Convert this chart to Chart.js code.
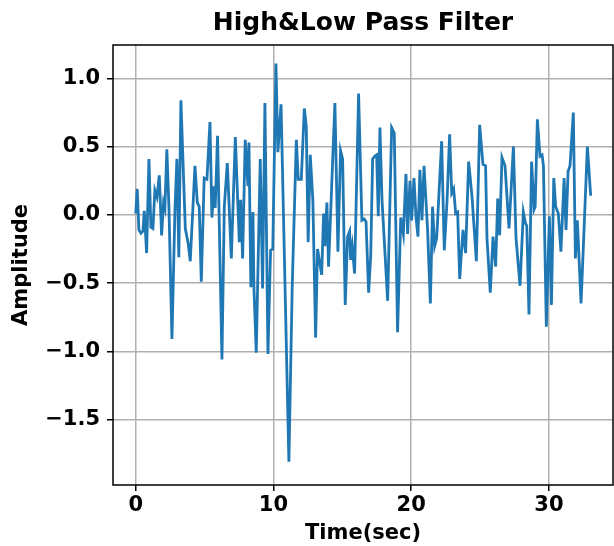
<!DOCTYPE html>
<html>
<head>
<meta charset="utf-8">
<script src="https://cdn.jsdelivr.net/npm/chart.js@4/dist/chart.umd.min.js"></script>
<style>
  html, body { margin: 0; padding: 0; background: #fff; }
  #wrap { width: 614px; height: 546px; }
</style>
</head>
<body>
<div id="wrap"><canvas id="filterChart" width="614" height="546"></canvas></div>
<script>
// filtered signal, time in seconds
const times = [
  0, 0.11, 0.23, 0.38, 0.52, 0.62, 0.79, 0.96, 1.1, 1.25, 1.39, 1.54, 1.71, 1.88, 2.02, 2.12,
  2.26, 2.41, 2.63, 2.84, 2.99, 3.13, 3.28, 3.6, 3.81, 3.96, 4.3, 4.47, 4.61, 4.76, 4.97, 5.17,
  5.39, 5.53, 5.68, 5.77, 5.94, 6.26, 6.43, 6.65, 6.94, 7.23, 7.52, 7.62, 7.76, 7.95, 8.15, 8.22,
  8.36, 8.51, 8.58, 8.75, 9.04, 9.21, 9.38, 9.6, 9.79, 9.95, 10.18, 10.32, 10.55,
  11.12, 11.36, 11.66, 11.8, 12.02, 12.24, 12.38, 12.52, 12.67, 12.86, 13.06, 13.2, 13.5, 13.64,
  13.74, 13.88, 14.0, 14.46, 14.68, 14.87, 15.02, 15.21, 15.38, 15.53, 15.6, 15.72, 15.89, 16.18,
  16.42, 16.58, 16.72, 16.91, 17.06, 17.2, 17.35, 17.49, 17.61, 17.73, 17.88, 18.29, 18.58, 18.77,
  19.01, 19.24, 19.43, 19.62, 19.74, 19.91, 20.03, 20.2, 20.35, 20.49, 20.63, 20.78, 20.93, 21.19,
  21.39, 21.55, 21.7, 21.85, 22.21, 22.4, 22.6, 22.79, 22.94, 23.08, 23.23, 23.37, 23.52, 23.76,
  23.95, 24.17, 24.41, 24.73, 24.97, 25.21, 25.4, 25.5, 25.74, 25.94, 26.13, 26.28, 26.42, 26.59,
  26.81, 27.1, 27.42, 27.61, 27.9, 28.14, 28.29, 28.39, 28.55, 28.74, 28.92, 29.0, 29.16, 29.35,
  29.5, 29.6, 29.81, 30.03, 30.18, 30.35, 30.49, 30.68, 30.87, 31.1, 31.24, 31.39, 31.53, 31.77,
  31.92, 32.06, 32.33, 32.79, 33.03
];
const amplitude = [
  0.01, 0.19, -0.11, -0.135, -0.12, 0.03, -0.28, 0.41, -0.09, -0.1, 0.18, 0.13, 0.29, -0.15, 0.09, 0.05,
  0.48, 0.06, -0.91, 0.01, 0.41, -0.31, 0.84, -0.1, -0.21, -0.34, 0.36, 0.09, 0.06, -0.49, 0.27, 0.26,
  0.68, -0.02, 0.21, 0.05, 0.58, -1.06, 0.06, 0.38, -0.32, 0.57, -0.2, 0.11, -0.32, 0.55, 0.21, 0.53,
  -0.53, 0.02, -0.53, -1.01, 0.41, -0.54, 0.82, -1.02, -0.26, -0.25, 1.11, 0.46, 0.81,
  -1.81, -0.53, 0.55, 0.26, 0.26, 0.78, 0.65, -0.2, 0.44, 0.11, -0.9, -0.25, -0.44, 0.01,
  -0.23, 0.09, -0.38, 0.82, -0.27, 0.47, 0.41, -0.66, -0.16, -0.12, -0.33, -0.23, -0.43, 0.89,
  -0.04, -0.03, -0.05, -0.57, -0.3, 0.41, 0.43, 0.44, -0.01, 0.64, 0.11, -0.63, 0.64, 0.6,
  -0.86, -0.02, -0.14, 0.3, -0.14, 0.25, -0.04, 0.27, -0.02, -0.16, 0.33, -0.04, 0.36, -0.11,
  -0.65, 0.06, -0.23, -0.17, 0.54, -0.26, 0.1, 0.59, 0.16, 0.19, 0.01, 0.02, -0.47, -0.11,
  -0.28, 0.39, 0.14, -0.34, 0.66, 0.37, 0.36, -0.17, -0.57, -0.16, -0.38, 0.12, -0.15, 0.42,
  0.36, -0.1, 0.5, -0.17, -0.52, 0.02, -0.06, -0.08, -0.73, 0.39, 0.04, 0.06, 0.7, 0.43,
  0.44, 0.36, -0.82, -0.01, -0.66, 0.27, 0.06, 0.01, -0.27, 0.27, -0.11, 0.32, 0.36, 0.75,
  -0.32, -0.04, -0.65, 0.5, 0.14
];
const xTicks = [0, 10, 20, 30];
const yTicks = [-1.5, -1.0, -0.5, 0.0, 0.5, 1.0];
const chartTitle = 'High&Low Pass Filter';

const FONT = 'DejaVu Sans';

// black frame around the plot area, drawn over the line like mpl spines,
// plus the title centred over the axes rather than the whole canvas
const frame = {
  id: 'frame',
  afterDatasetsDraw(chart) {
    const a = chart.chartArea, ctx = chart.ctx;
    ctx.save();
    ctx.strokeStyle = '#000';
    ctx.lineWidth = 1.5;
    ctx.strokeRect(a.left, a.top, a.right - a.left, a.bottom - a.top);
    ctx.fillStyle = '#000';
    ctx.font = 'bold 25px "' + FONT + '"';
    ctx.textAlign = 'center';
    ctx.textBaseline = 'middle';
    ctx.fillText(chartTitle, (a.left + a.right) / 2, 23);
    ctx.restore();
  }
};

const ctx = document.getElementById('filterChart').getContext('2d');
new Chart(ctx, {
  type: 'line',
  data: {
    datasets: [{
      data: times.map((t, i) => ({ x: t, y: amplitude[i] })),
      borderColor: '#1f77b4',
      borderWidth: 2.8,
      pointRadius: 0,
      tension: 0,
      fill: false
    }]
  },
  options: {
    responsive: false,
    animation: false,
    devicePixelRatio: 1,
    layout: { padding: { left: 0, right: 1, top: 45, bottom: 0 } },
    plugins: {
      legend: { display: false },
      tooltip: { enabled: false },
      title: { display: false }
    },
    scales: {
      x: {
        type: 'linear',
        min: -1.65,
        max: 34.65,
        afterBuildTicks: s => { s.ticks = xTicks.map(v => ({ value: v })); },
        afterFit: s => { s.height = 61; },
        grid: { color: '#b0b0b0', lineWidth: 1.5, tickColor: '#000', tickWidth: 1.5, tickLength: 6 },
        border: { display: false },
        ticks: {
          color: '#000',
          padding: 2,
          maxRotation: 0,
          font: { family: FONT, size: 21, weight: 'bold' },
          callback: v => String(v)
        },
        title: {
          display: true,
          text: 'Time(sec)',
          color: '#000',
          font: { family: FONT, size: 21, weight: 'bold', lineHeight: 1.2 },
          padding: { top: 0, bottom: 0 }
        }
      },
      y: {
        min: -1.98,
        max: 1.245,
        afterBuildTicks: s => { s.ticks = yTicks.map(v => ({ value: v })); },
        afterFit: s => { s.width = 113; },
        grid: { color: '#b0b0b0', lineWidth: 1.5, tickColor: '#000', tickWidth: 1.5, tickLength: 6 },
        border: { display: false },
        ticks: {
          color: '#000',
          padding: 7,
          font: { family: FONT, size: 21, weight: 'bold' },
          callback: v => v.toFixed(1).replace('-', '\u2212')
        },
        title: {
          display: true,
          text: 'Amplitude',
          color: '#000',
          font: { family: FONT, size: 21, weight: 'bold', lineHeight: 1.2 },
          padding: { top: 9, bottom: 0 }
        }
      }
    }
  },
  plugins: [frame]
});
</script>
</body>
</html>
